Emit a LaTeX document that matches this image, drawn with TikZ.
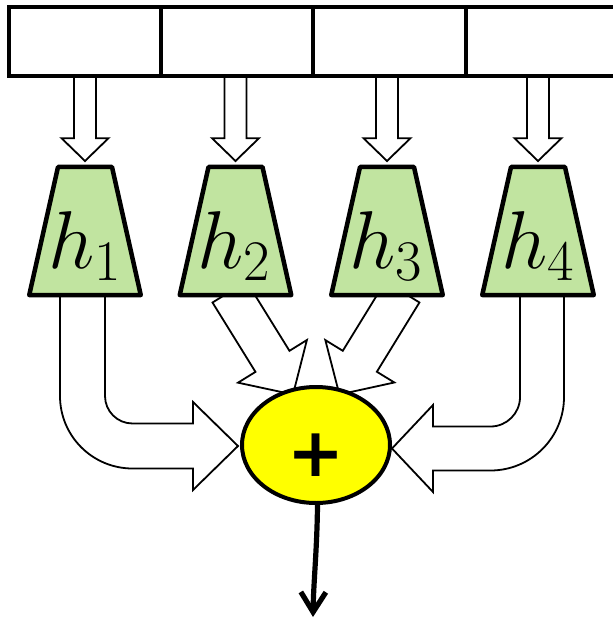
\RequirePackage{fix-cm}
\documentclass[tikz,border=0pt]{standalone}
\usepackage{fontspec}
\newfontfamily\plusfont{DejaVu Sans}
\usetikzlibrary{shapes.geometric,calc,arrows.meta}
\definecolor{headgreen}{RGB}{193,228,160}
\definecolor{sumyellow}{RGB}{255,255,0}
\pgfdeclarelayer{bg}
\pgfsetlayers{bg,main}

\tikzset{
  cell/.style={draw, line width=1.75pt, fill=white, minimum width=76pt,
    minimum height=34.5pt, inner sep=0pt, outer sep=0pt},
  headspace/.style={rectangle, minimum width=55.75pt, minimum height=64pt,
    inner sep=0pt, outer sep=0pt},
  headshape/.style={draw, line width=2.25pt, line join=round, fill=headgreen},
  headlabel/.style={anchor=base, inner sep=0pt, font=\fontsize{41}{49}\selectfont},
  sumnode/.style={ellipse, draw, line width=2pt, fill=sumyellow,
    minimum width=74pt, minimum height=58pt, inner sep=0pt},
  plussign/.style={inner sep=0pt, font=\plusfont\bfseries\fontsize{34}{34}\selectfont},
  hollow/.style={draw=black, fill=white, line width=0.9pt, line join=miter},
  outarrow/.style={line width=2.6pt, -{Straight Barb[length=10pt,width=12.5pt]}}
}

% straight block arrow: start, tip, shaft half width, head half width, head length
\newcommand\blockarrow[5]{%
  \path ($(#2)!#5!(#1)$) coordinate (ab);
  \draw[hollow] ($(#1)!#3!90:(#2)$) -- ($(ab)!#3!90:(#2)$) -- ($(ab)!#4!90:(#2)$)
    -- (#2) -- ($(ab)!#4!-90:(#2)$) -- ($(ab)!#3!-90:(#2)$)
    -- ($(#1)!#3!-90:(#2)$) -- cycle;
}
% trapezoid head drawn over the frame of a named node
\newcommand\headtrap[1]{%
  \draw[headshape] (#1.south west) -- (#1.south east)
    -- ($(#1.north east)+(-28.75,0)$) -- ($(#1.north west)+(28.75,0)$) -- cycle;
}

\begin{document}
\begin{tikzpicture}[x=0.5pt,y=-0.5pt]
\useasboundingbox (0,0) rectangle (613,620);

% input cells
\node[cell] (c1) at (85,41.5) {};
\node[cell] (c2) at (237,41.5) {};
\node[cell] (c3) at (389.5,41.5) {};
\node[cell] (c4) at (542,41.5) {};

% heads
\node[headspace] (h1) at (85,231) {};
\node[headspace] (h2) at (235.5,231) {};
\node[headspace] (h3) at (387,231) {};
\node[headspace] (h4) at (538,231) {};
\foreach \i in {1,2,3,4}{\headtrap{h\i}}
\node[headlabel] (l1) at ($(h1.center)+(0,37)$) {$h_1$};
\node[headlabel] (l2) at ($(h2.center)+(-1,37)$) {$h_2$};
\node[headlabel] (l3) at ($(h3.center)+(-1,37)$) {$h_3$};
\node[headlabel] (l4) at ($(h4.center)+(0,37)$) {$h_4$};

% sum
\node[sumnode] (sum) at (316,445) {};
\node[plussign] (plus) at ($(sum.center)+(0,10)$) {+};

\coordinate (out) at (313,617);
\draw[outarrow] ($(sum.south)+(1.5,0)$) .. controls ($(sum.south)+(1,45)$)
  and ($(out)+(0.5,-35)$) .. (out);

\begin{pgfonlayer}{bg}
  % cells to heads
  \foreach \i in {1,2,3,4}{
    \coordinate (s\i) at (h\i.north |- c\i.south);
    \coordinate (t\i) at ($(h\i.north)+(0,-6)$);
    \blockarrow{s\i}{t\i}{5.5pt}{11.75pt}{11.4pt}
  }
  % heads 2 and 3 to sum
  \coordinate (s5) at ($(h2.south)+(-6,-3)$);
  \coordinate (t5) at ($(sum.center)+(-23,-50.5)$);
  \blockarrow{s5}{t5}{10pt}{20.25pt}{19.5pt}
  \coordinate (s6) at ($(h3.south)+(15.4,-3)$);
  \coordinate (t6) at ($(sum.center)+(23.4,-50.5)$);
  \blockarrow{s6}{t6}{10pt}{20.25pt}{19.5pt}

  % head 1 to sum, bent
  \draw[hollow] ($(h1.south)+(-25,-5)$) -- ($(h1.south)+(-25,101)$)
    arc[start angle=180, end angle=90, radius=72.5]
    -- ($(sum.west)+(-47,23.5)$) -- ($(sum.west)+(-47,45)$)
    -- ($(sum.west)+(-2,1)$)
    -- ($(sum.west)+(-47,-43)$) -- ($(sum.west)+(-47,-21.5)$)
    -- ($(h1.south)+(47.5,128.5)$)
    arc[start angle=90, end angle=180, radius=27.5]
    -- ($(h1.south)+(20,-5)$) -- cycle;

  % head 4 to sum, bent
  \draw[hollow] ($(h4.south)+(26,-5)$) -- ($(h4.south)+(26,102)$)
    arc[start angle=0, end angle=90, radius=73.5]
    -- ($(sum.east)+(41,25.5)$) -- ($(sum.east)+(41,47)$)
    -- ($(sum.east)+(0,3.5)$)
    -- ($(sum.east)+(41,-40)$) -- ($(sum.east)+(41,-18.5)$)
    -- ($(h4.south)+(-47.5,131.5)$)
    arc[start angle=90, end angle=0, radius=29.5]
    -- ($(h4.south)+(-18,-5)$) -- cycle;
\end{pgfonlayer}
\end{tikzpicture}
\end{document}
